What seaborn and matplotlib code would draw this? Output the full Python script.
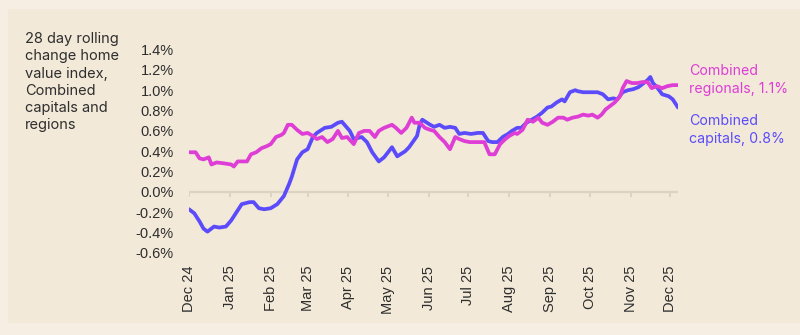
import numpy as np
import pandas as pd
import matplotlib
matplotlib.use("Agg")
import matplotlib.pyplot as plt
from matplotlib.patches import Rectangle
import seaborn as sns

# ---------------- data ----------------
START = "2024-12-01"

cap_day = [0, 4, 8, 11, 14, 19, 23, 28, 32, 37, 40, 46, 49, 53, 57, 62, 67, 72, 76, 78,
           82, 86, 90, 94, 97, 103, 108, 113, 116, 122, 125, 131, 135, 139, 144, 148, 154,
           158, 164, 167, 173, 175, 177, 183, 186, 190, 194, 198, 202, 205, 209, 214, 219,
           223, 227, 230, 234, 238, 242, 245, 249, 252, 256, 260, 264, 268, 272, 275, 279,
           283, 285, 289, 293, 295, 299, 304, 310, 314, 318, 322, 325, 329, 333, 337, 341,
           345, 348, 350, 352, 355, 359, 364, 367, 371]
cap_val = [-0.17, -0.21, -0.29, -0.36, -0.39, -0.34, -0.35, -0.34, -0.28, -0.18, -0.12,
           -0.10, -0.10, -0.16, -0.17, -0.16, -0.12, -0.04, 0.08, 0.15, 0.32, 0.39, 0.42,
           0.54, 0.58, 0.63, 0.64, 0.68, 0.69, 0.60, 0.52, 0.54, 0.49, 0.39, 0.30, 0.34,
           0.44, 0.35, 0.40, 0.44, 0.55, 0.66, 0.71, 0.66, 0.64, 0.66, 0.63, 0.64, 0.63,
           0.57, 0.58, 0.57, 0.58, 0.58, 0.50, 0.49, 0.49, 0.54, 0.57, 0.60, 0.63, 0.63,
           0.68, 0.71, 0.74, 0.78, 0.83, 0.84, 0.88, 0.91, 0.89, 0.98, 1.00, 0.99, 0.98,
           0.98, 0.98, 0.96, 0.91, 0.92, 0.91, 0.98, 1.00, 1.01, 1.03, 1.07, 1.10, 1.13,
           1.07, 1.03, 0.96, 0.94, 0.91, 0.83]

reg_day = [0, 5, 8, 11, 15, 17, 21, 27, 32, 34, 37, 40, 44, 47, 51, 55, 59, 62, 66, 70,
           72, 75, 78, 82, 86, 90, 94, 97, 101, 105, 109, 113, 116, 120, 125, 129, 133,
           137, 141, 144, 148, 154, 157, 161, 165, 169, 171, 175, 179, 183, 186, 190, 194,
           198, 202, 205, 209, 213, 217, 221, 224, 228, 232, 236, 240, 243, 247, 249, 253,
           257, 261, 265, 268, 272, 276, 280, 284, 287, 291, 295, 299, 303, 306, 310, 313,
           316, 319, 323, 327, 329, 332, 336, 340, 344, 348, 351, 355, 359, 363, 367, 371]
reg_val = [0.39, 0.39, 0.33, 0.32, 0.34, 0.27, 0.29, 0.28, 0.27, 0.25, 0.30, 0.30, 0.30,
           0.37, 0.39, 0.43, 0.45, 0.47, 0.54, 0.56, 0.58, 0.66, 0.66, 0.61, 0.57, 0.58,
           0.55, 0.52, 0.54, 0.49, 0.52, 0.60, 0.53, 0.54, 0.47, 0.58, 0.60, 0.60, 0.54,
           0.60, 0.63, 0.66, 0.63, 0.58, 0.63, 0.73, 0.68, 0.68, 0.63, 0.61, 0.60, 0.54,
           0.49, 0.42, 0.54, 0.52, 0.50, 0.49, 0.49, 0.49, 0.49, 0.37, 0.37, 0.47, 0.52,
           0.55, 0.58, 0.57, 0.61, 0.71, 0.69, 0.73, 0.68, 0.66, 0.69, 0.73, 0.73, 0.71,
           0.73, 0.74, 0.76, 0.75, 0.76, 0.73, 0.76, 0.81, 0.84, 0.88, 0.94, 1.02, 1.09,
           1.07, 1.07, 1.08, 1.08, 1.02, 1.04, 1.02, 1.04, 1.05, 1.05]

series_names = ["Combined capitals", "Combined regionals"]
month_labels = ["Dec 24", "Jan 25", "Feb 25", "Mar 25", "Apr 25", "May 25", "Jun 25",
                "Jul 25", "Aug 25", "Sep 25", "Oct 25", "Nov 25", "Dec 25"]
y_ticks = [-0.6, -0.4, -0.2, 0.0, 0.2, 0.4, 0.6, 0.8, 1.0, 1.2, 1.4]
y_tick_labels = ["-0.6%", "-0.4%", "-0.2%", "0.0%", "0.2%", "0.4%", "0.6%", "0.8%",
                 "1.0%", "1.2%", "1.4%"]
title_text = "28 day rolling\nchange home\nvalue index,\nCombined\ncapitals and\nregions"
reg_label = "Combined\nregionals, 1.1%"
cap_label = "Combined\ncapitals, 0.8%"

# ---------------- build frame ----------------
start = pd.Timestamp(START)
df = pd.concat([
    pd.DataFrame({"date": start + pd.to_timedelta(cap_day, unit="D"),
                  "value": cap_val, "series": series_names[0]}),
    pd.DataFrame({"date": start + pd.to_timedelta(reg_day, unit="D"),
                  "value": reg_val, "series": series_names[1]}),
], ignore_index=True)
month_dates = pd.date_range(START, periods=len(month_labels), freq="MS")

# ---------------- style ----------------
OUTER = "#F6EEE2"
PANEL = "#F2E9D8"
BLUE = "#5B4BFB"
MAGENTA = "#DE3DD6"
TEXT = "#2E2E2E"
AXIS = "#DCD3C3"

sns.set_theme(style="white")
plt.rcParams["font.family"] = ["Liberation Sans", "DejaVu Sans"]

fig = plt.figure(figsize=(8.0, 3.35), dpi=100, facecolor=OUTER)
panel = Rectangle((8 / 800, 1 - 323 / 335), 1.0, (323 - 9) / 335,
                  transform=fig.transFigure, facecolor=PANEL,
                  edgecolor="none", zorder=-10)
fig.add_artist(panel)

ax = fig.add_axes([189 / 800, 1 - 253 / 335, (678 - 189) / 800, (253 - 49.5) / 335])
ax.set_zorder(5)
ax.set_facecolor("none")
ax.patch.set_alpha(0)

# zero line with downward month ticks
ax.axhline(0, color=AXIS, linewidth=1.6, zorder=1)
ax.vlines(month_dates, -0.045, 0, color=AXIS, linewidth=1.4, zorder=1)

sns.lineplot(data=df, x="date", y="value", hue="series",
             hue_order=series_names, palette=[BLUE, MAGENTA],
             linewidth=2.7, legend=False, ax=ax, estimator=None, zorder=3)

ax.set_xlim(start, start + pd.Timedelta(days=371))
ax.set_ylim(-0.6, 1.4)
ax.set_yticks(y_ticks)
ax.set_yticklabels(y_tick_labels)
ax.set_xticks(month_dates)
ax.set_xticklabels(month_labels, rotation=90, va="top", ha="center")
ax.set_xlabel("")
ax.set_ylabel("")
for s in ax.spines.values():
    s.set_visible(False)
ax.tick_params(axis="x", length=0, pad=9, labelsize=10.5, labelcolor=TEXT)
ax.tick_params(axis="y", length=0, pad=11, labelsize=10.5, labelcolor=TEXT)

# texts
fig.text(25 / 800, 1 - 32 / 335, title_text, ha="left", va="top", fontsize=10.5,
         family=["Inter", "DejaVu Sans"], color=TEXT, linespacing=1.3)
fig.text(689 / 800, 1 - 64 / 335, reg_label, ha="left", va="top", fontsize=10.2,
         family=["Inter", "DejaVu Sans"], color=MAGENTA, linespacing=1.35)
fig.text(689 / 800, 1 - 114 / 335, cap_label, ha="left", va="top", fontsize=10.2,
         family=["Inter", "DejaVu Sans"], color=BLUE, linespacing=1.35)

fig.savefig("out.png", dpi=100, facecolor=OUTER)
